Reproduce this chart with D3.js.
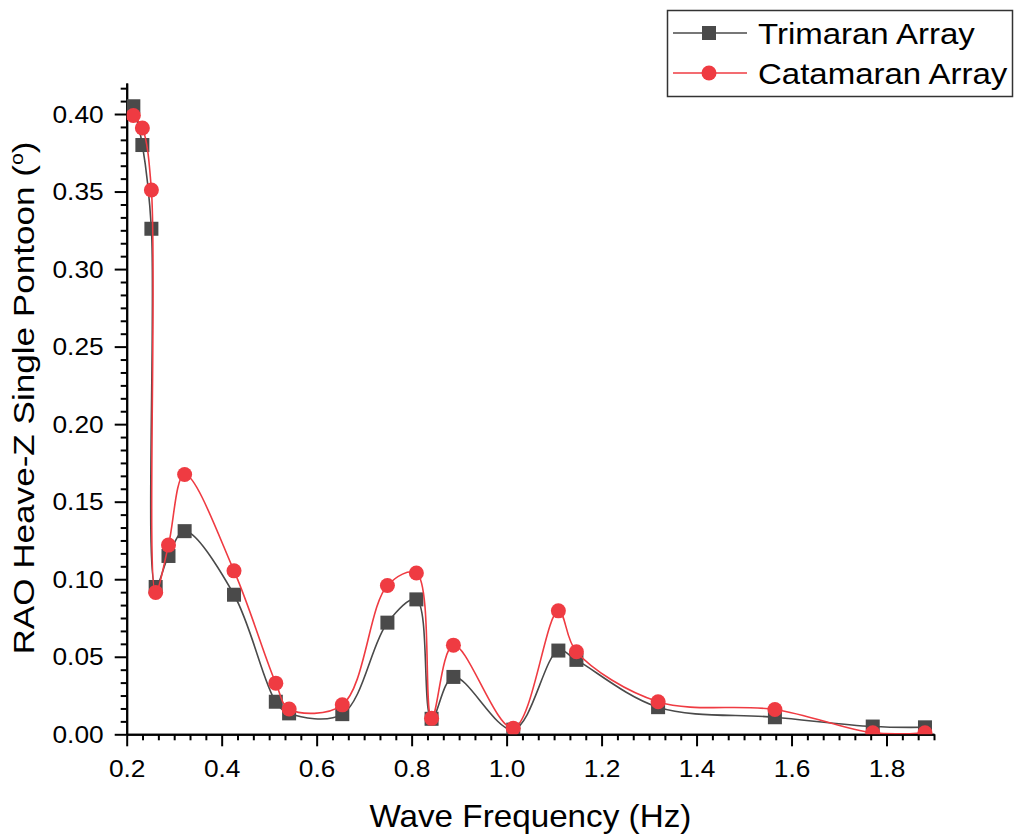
<!DOCTYPE html>
<html>
<head>
<meta charset="utf-8">
<script src="https://cdn.jsdelivr.net/npm/d3@7"></script>
<style>
  html, body { margin: 0; padding: 0; background: #fff; }
  svg { display: block; font-family: Arial, "Liberation Sans", sans-serif; }
</style>
</head>
<body>
<svg id="chart" width="1019" height="838"></svg>
<script>
// Wave frequencies (Hz) shared by both arrays
const frequency = [0.214, 0.233, 0.252, 0.261, 0.288, 0.322, 0.426, 0.514, 0.542, 0.654,
                   0.749, 0.810, 0.842, 0.888, 1.014, 1.109, 1.147, 1.319, 1.565, 1.771, 1.881];
// Heave RAO (deg) of a single pontoon
const trimaran  = [0.405, 0.380, 0.326, 0.095, 0.115, 0.131, 0.090, 0.021, 0.0135, 0.013,
                   0.072, 0.087, 0.010, 0.037, 0.003, 0.054, 0.048, 0.0175, 0.011, 0.005, 0.0045];
const catamaran = [0.399, 0.391, 0.351, 0.0915, 0.122, 0.1675, 0.1054, 0.033, 0.0163, 0.019,
                   0.096, 0.104, 0.0103, 0.0575, 0.0039, 0.0796, 0.0532, 0.021, 0.016, 0.001, 0.001];
const seriesNames = ["Trimaran Array", "Catamaran Array"];
const xTicks = [0.2, 0.4, 0.6, 0.8, 1.0, 1.2, 1.4, 1.6, 1.8];
const yTicks = [0.00, 0.05, 0.10, 0.15, 0.20, 0.25, 0.30, 0.35, 0.40];

const GRAY = "#4a4a4a", RED = "#ef3b42";
const STRETCH = 1.12; // glyph widening used for all labels

const svg = d3.select("#chart");
const x = d3.scaleLinear().domain([0.2, 1.9]).range([126.7, 934]);
const y = d3.scaleLinear().domain([0, 0.42]).range([734.3, 83]);

// clip marks to the plotting area
svg.append("defs").append("clipPath").attr("id", "plotClip")
  .append("rect").attr("x", x.range()[0]).attr("y", y.range()[1])
  .attr("width", x.range()[1] - x.range()[0]).attr("height", y.range()[0] - y.range()[1]);

// minor tick positions (5 between majors)
const xMinor = d3.range(0.2, 1.9 + 1e-9, 0.2 / 6).filter(v => Math.abs(v / 0.2 - Math.round(v / 0.2)) > 1e-6);
const yMinor = d3.range(0, 0.42 + 1e-9, 0.05 / 6).filter(v => Math.abs(v / 0.05 - Math.round(v / 0.05)) > 1e-6);

function styleAxis(g) {
  g.select(".domain").attr("stroke", "#000").attr("stroke-width", 2);
  g.selectAll(".tick line").attr("stroke", "#000").attr("stroke-width", 2);
}

// minor ticks
svg.append("g").attr("transform", `translate(0,${y.range()[0]})`)
  .call(d3.axisBottom(x).tickValues(xMinor).tickSize(6).tickFormat("").tickSizeOuter(0))
  .call(styleAxis);
svg.append("g").attr("transform", `translate(${x.range()[0]},0)`)
  .call(d3.axisLeft(y).tickValues(yMinor).tickSize(6).tickFormat("").tickSizeOuter(0))
  .call(styleAxis);

// major ticks with labels
const xAxis = svg.append("g").attr("transform", `translate(0,${y.range()[0]})`)
  .call(d3.axisBottom(x).tickValues(xTicks).tickSize(12).tickSizeOuter(0).tickFormat(d3.format(".1f")))
  .call(styleAxis);
xAxis.selectAll(".tick text")
  .attr("fill", "#000").attr("font-size", 23.5).attr("font-family", "Arial, 'Liberation Sans', sans-serif")
  .attr("y", 0).attr("dy", 0)
  .attr("transform", `translate(0,43) scale(${STRETCH},1)`);

const yAxis = svg.append("g").attr("transform", `translate(${x.range()[0]},0)`)
  .call(d3.axisLeft(y).tickValues(yTicks).tickSize(12).tickSizeOuter(0).tickFormat(d3.format(".2f")))
  .call(styleAxis);
yAxis.selectAll(".tick text")
  .attr("fill", "#000").attr("font-size", 23.5).attr("font-family", "Arial, 'Liberation Sans', sans-serif")
  .attr("x", 0).attr("dy", "0.35em")
  .attr("transform", `translate(-23,0) scale(${STRETCH},1)`);

// axis titles
svg.append("text")
  .attr("transform", `translate(${(x.range()[0] + x.range()[1]) / 2},827) scale(1.09,1)`)
  .attr("text-anchor", "middle").attr("font-size", 30.5).attr("fill", "#000")
  .text("Wave Frequency (Hz)");

const yTitle = svg.append("text")
  .attr("transform", `translate(34,398) rotate(-90) scale(1.19,1)`)
  .attr("text-anchor", "middle").attr("font-size", 29.5).attr("fill", "#000");
yTitle.append("tspan").text("RAO Heave-Z Single Pontoon (");
yTitle.append("tspan").attr("font-size", 18).attr("dy", -11).text("o");
yTitle.append("tspan").attr("dy", 11).text(")");

// series
const plot = svg.append("g").attr("clip-path", "url(#plotClip)");
const line = d3.line().x(d => x(d[0])).y(d => y(d[1])).curve(d3.curveCatmullRom.alpha(0.5));

const tri = frequency.map((f, i) => [f, trimaran[i]]);
const cat = frequency.map((f, i) => [f, catamaran[i]]);

plot.append("path").datum(tri).attr("d", line)
  .attr("fill", "none").attr("stroke", GRAY).attr("stroke-width", 1.6);
const sq = 14;
plot.selectAll("rect.tri").data(tri).join("rect").attr("class", "tri")
  .attr("x", d => x(d[0]) - sq / 2).attr("y", d => y(d[1]) - sq / 2)
  .attr("width", sq).attr("height", sq).attr("fill", GRAY);

plot.append("path").datum(cat).attr("d", line)
  .attr("fill", "none").attr("stroke", RED).attr("stroke-width", 1.6);
plot.selectAll("circle.cat").data(cat).join("circle").attr("class", "cat")
  .attr("cx", d => x(d[0])).attr("cy", d => y(d[1])).attr("r", 7.5).attr("fill", RED);

// legend
const legend = svg.append("g");
legend.append("rect").attr("x", 667.5).attr("y", 10.5).attr("width", 345).attr("height", 86)
  .attr("fill", "#fff").attr("stroke", "#333").attr("stroke-width", 1.5);
const rows = [
  { name: seriesNames[0], color: GRAY, shape: "square", cy: 33 },
  { name: seriesNames[1], color: RED, shape: "circle", cy: 73 }
];
rows.forEach(r => {
  legend.append("line").attr("x1", 673).attr("x2", 747).attr("y1", r.cy).attr("y2", r.cy)
    .attr("stroke", r.color).attr("stroke-width", 1.6);
  if (r.shape === "square") {
    legend.append("rect").attr("x", 709 - sq / 2).attr("y", r.cy - sq / 2)
      .attr("width", sq).attr("height", sq).attr("fill", r.color);
  } else {
    legend.append("circle").attr("cx", 709).attr("cy", r.cy).attr("r", 7.5).attr("fill", r.color);
  }
  legend.append("text").attr("transform", `translate(758,${r.cy + 11}) scale(1.1,1)`)
    .attr("font-size", 30).attr("fill", "#000").text(r.name);
});
</script>
</body>
</html>
